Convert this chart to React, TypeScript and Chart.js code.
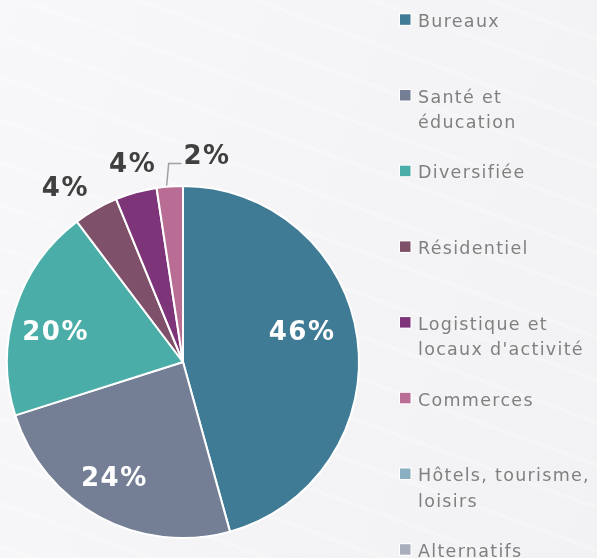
import React, { useEffect, useRef } from "react";
import { Chart, registerables } from "chart.js";

Chart.register(...registerables);

// ---- data ----
const categories: string[][] = [
  ["Bureaux"],
  ["Santé et", "éducation"],
  ["Diversifiée"],
  ["Résidentiel"],
  ["Logistique et", "locaux d'activité"],
  ["Commerces"],
  ["Hôtels, tourisme,", "loisirs"],
  ["Alternatifs"],
];
const shares = [45.7, 24.4, 19.6, 4.1, 3.8, 2.4, 0, 0];
const percentLabels = ["46%", "24%", "20%", "4%", "4%", "2%", "", ""];
const colors = [
  "#3f7b94",
  "#747f95",
  "#4aada7",
  "#7f5069",
  "#7e3479",
  "#b96d94",
  "#8aafc0",
  "#a9aebd",
];

// ---- label styling (radial placement + small nudges) ----
const labelStyle = [
  { inside: true, dx: -4, dy: -15, leader: false },
  { inside: true, dx: -11, dy: 6, leader: false },
  { inside: true, dx: -11, dy: 6, leader: false },
  { inside: false, dx: -14, dy: 8, leader: false },
  { inside: false, dx: 5, dy: 4, leader: false },
  { inside: false, dx: 39, dy: 3, leader: true },
];

const FONT = '"DejaVu Sans", "Noto Sans", sans-serif';

const overlayPlugin = {
  id: "overlay",
  afterDatasetsDraw(chart: any) {
    const ctx: CanvasRenderingContext2D = chart.ctx;
    const meta = chart.getDatasetMeta(0);
    ctx.save();
    // percentage labels
    ctx.font = `bold 26px ${FONT}`;
    (ctx as any).letterSpacing = "1.5px";
    ctx.textAlign = "center";
    ctx.textBaseline = "alphabetic";
    meta.data.forEach((arc: any, i: number) => {
      const text = percentLabels[i];
      const st = labelStyle[i];
      if (!text || !st) return;
      const p = arc.getProps(["x", "y", "startAngle", "endAngle", "outerRadius"], true);
      const mid = (p.startAngle + p.endAngle) / 2;
      const r = p.outerRadius * (st.inside ? 0.7 : 1.2);
      const cx = p.x + Math.cos(mid) * r + st.dx;
      const cy = p.y + Math.sin(mid) * r + st.dy;
      ctx.fillStyle = st.inside ? "#ffffff" : "#404040";
      ctx.fillText(text, cx + 1, cy + 9.5);
      if (st.leader) {
        const w = ctx.measureText(text).width;
        const ex = p.x + Math.cos(mid) * (p.outerRadius + 1);
        const ey = p.y + Math.sin(mid) * (p.outerRadius + 1);
        ctx.beginPath();
        ctx.strokeStyle = "#a0a0a0";
        ctx.lineWidth = 1.5;
        ctx.moveTo(ex - 3, ey);
        ctx.lineTo(ex - 1, cy + 9);
        ctx.lineTo(cx - w / 2 - 1, cy + 9);
        ctx.stroke();
      }
    });
    ctx.restore();

    // legend
    ctx.save();
    ctx.font = `17.5px ${FONT}`;
    (ctx as any).letterSpacing = "1.3px";
    ctx.textAlign = "left";
    ctx.textBaseline = "alphabetic";
    const labels: string[][] = chart.data.labels;
    const bg: string[] = chart.data.datasets[0].backgroundColor;
    labels.forEach((lines, i) => {
      const base = 27 + i * 75.7;
      ctx.fillStyle = "#ffffff";
      ctx.fillRect(399, base - 13.7, 12.5, 12.5);
      ctx.fillStyle = bg[i];
      ctx.fillRect(400, base - 12.7, 10.5, 10.5);
      ctx.fillStyle = "#808080";
      lines.forEach((ln, j) => {
        ctx.fillText(ln, 418, base + j * 25.4);
      });
    });
    ctx.restore();
  },
};

export default function App() {
  const ref = useRef<HTMLCanvasElement | null>(null);

  useEffect(() => {
    if (!ref.current) return;
    const chart = new Chart(ref.current, {
      type: "pie",
      data: {
        labels: categories as any,
        datasets: [
          {
            data: shares,
            backgroundColor: colors,
            borderColor: "#ffffff",
            borderWidth: 2,
          },
        ],
      },
      options: {
        responsive: false,
        animation: false,
        radius: 176,
        layout: { padding: { left: 7, right: 238, top: 186, bottom: 20 } },
        plugins: {
          legend: { display: false },
          tooltip: { enabled: false },
        },
      } as any,
      plugins: [overlayPlugin],
    });
    return () => chart.destroy();
  }, []);

  return (
    <div
      style={{
        position: "absolute",
        left: 0,
        top: 0,
        width: 597,
        height: 558,
        overflow: "hidden",
        background:
          "repeating-linear-gradient(200deg, rgba(255,255,255,0) 0px, rgba(255,255,255,0) 34px, rgba(255,255,255,0.3) 37px, rgba(255,255,255,0) 40px), linear-gradient(110deg, #f8f8fa 0%, #f4f4f6 55%, #f2f2f4 100%)",
      }}
    >
      <canvas ref={ref} width={597} height={558} style={{ display: "block" }} />
    </div>
  );
}
